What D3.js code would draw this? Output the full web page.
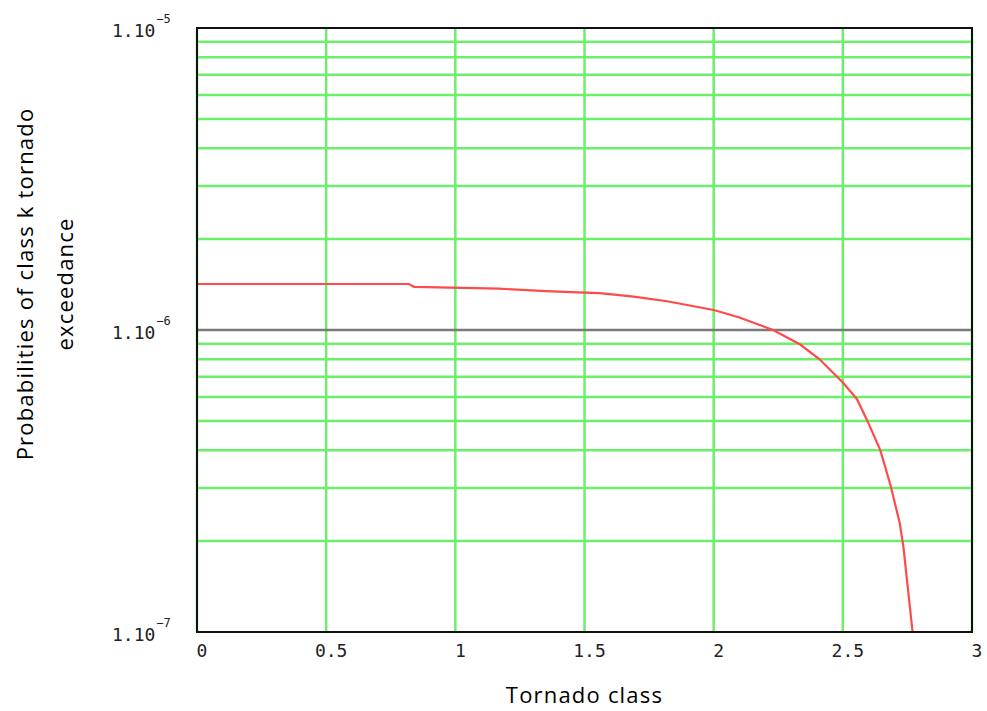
<!DOCTYPE html>
<html>
<head>
<meta charset="utf-8">
<script src="https://cdn.jsdelivr.net/npm/d3@7"></script>
<style>
  body { margin: 0; background: #fff; }
  .tick-lbl { font-family: "DejaVu Sans Mono", monospace; fill: #222; }
  .title { font-family: "Open Sans", sans-serif; fill: #000; }
</style>
</head>
<body>
<div class="chart"></div>
<script>
var width = 987,
    height = 711;

// tornado class (x) and exceedance probability (y)
var classX = [0, 0.40, 0.82, 0.84, 1.17, 1.35, 1.50, 1.56, 1.69, 1.82, 2.00, 2.10, 2.23, 2.335, 2.41, 2.50, 2.555, 2.595, 2.645, 2.685, 2.72, 2.735, 2.77];
var exceedP = [1.42e-6, 1.42e-6, 1.42e-6, 1.39e-6, 1.37e-6, 1.345e-6, 1.33e-6, 1.325e-6, 1.29e-6, 1.245e-6, 1.165e-6, 1.10e-6, 1.0e-6, 0.895e-6, 0.80e-6, 0.67e-6, 0.59e-6, 0.50e-6, 0.40e-6, 0.305e-6, 0.23e-6, 0.19e-6, 1.0e-7];

var xTicks = [0, 0.5, 1, 1.5, 2, 2.5, 3];
var xTickLabels = ["0", "0.5", "1", "1.5", "2", "2.5", "3"];
var yDecades = [-7, -6, -5];
var yMinor = [2e-7, 3e-7, 4e-7, 5e-7, 6e-7, 7e-7, 8e-7, 9e-7, 2e-6, 3e-6, 4e-6, 5e-6, 6e-6, 7e-6, 8e-6, 9e-6];

var margin = { top: 28, right: 15, bottom: 79, left: 197 };

var svg = d3.select(".chart").append("svg")
    .attr("width", width)
    .attr("height", height);

var x = d3.scaleLinear()
    .domain([0, 3])
    .range([margin.left, width - margin.right]);

var y = d3.scaleLog()
    .domain([1e-7, 1e-5])
    .range([height - margin.bottom, margin.top]);

var grid = svg.append("g");

// vertical grid
grid.selectAll(".vgrid")
    .data(xTicks)
    .enter().append("line")
    .attr("x1", function(d) { return x(d); })
    .attr("x2", function(d) { return x(d); })
    .attr("y1", y(1e-5))
    .attr("y2", y(1e-7))
    .attr("stroke", "#6cf06c")
    .attr("stroke-width", 2.5);

// horizontal minor grid
grid.selectAll(".hgrid")
    .data(yMinor)
    .enter().append("line")
    .attr("x1", x(0))
    .attr("x2", x(3))
    .attr("y1", function(d) { return y(d); })
    .attr("y2", function(d) { return y(d); })
    .attr("stroke", "#6cf06c")
    .attr("stroke-width", 2.5);

// 1e-6 decade line
grid.append("line")
    .attr("x1", x(0))
    .attr("x2", x(3))
    .attr("y1", y(1e-6))
    .attr("y2", y(1e-6))
    .attr("stroke", "#7a7a7a")
    .attr("stroke-width", 2.5);

// curve
var line = d3.line()
    .x(function(d, i) { return x(classX[i]); })
    .y(function(d) { return y(d); });

svg.append("path")
    .datum(exceedP)
    .attr("d", line)
    .attr("fill", "none")
    .attr("stroke", "#ff4a4a")
    .attr("stroke-width", 2.2);

// frame
svg.append("rect")
    .attr("x", x(0))
    .attr("y", y(1e-5))
    .attr("width", x(3) - x(0))
    .attr("height", y(1e-7) - y(1e-5))
    .attr("fill", "none")
    .attr("stroke", "#111")
    .attr("stroke-width", 2);

// y tick labels  1.10^-n
var yl = svg.selectAll(".ylbl")
    .data(yDecades)
    .enter().append("text")
    .attr("class", "tick-lbl")
    .attr("x", 112)
    .attr("y", function(d) { return y(Math.pow(10, d)) + 9; })
    .style("font-size", "18px");

yl.append("tspan").text("1.10");
yl.append("tspan")
    .attr("dy", -14)
    .attr("dx", 1)
    .style("font-size", "12px")
    .text(function(d) { return "\u2212" + (-d); });

// x tick labels
svg.selectAll(".xlbl")
    .data(xTicks)
    .enter().append("text")
    .attr("class", "tick-lbl")
    .attr("x", function(d) { return x(d) + 5; })
    .attr("y", 657)
    .attr("text-anchor", "middle")
    .style("font-size", "18px")
    .text(function(d, i) { return xTickLabels[i]; });

// axis titles
svg.append("text")
    .attr("class", "title")
    .attr("x", x(1.5))
    .attr("y", 703)
    .attr("text-anchor", "middle")
    .style("font-size", "22px")
    .style("letter-spacing", "1.2px")
    .text("Tornado class");

var yt = svg.append("text")
    .attr("class", "title")
    .attr("transform", "translate(33,284) rotate(-90)")
    .attr("text-anchor", "middle")
    .style("font-size", "22px")
    .style("letter-spacing", "1.2px");

yt.append("tspan").attr("x", 0).attr("y", 0).text("Probabilities of class k tornado");
yt.append("tspan").attr("x", 0).attr("y", 40).text("exceedance");
</script>
</body>
</html>
